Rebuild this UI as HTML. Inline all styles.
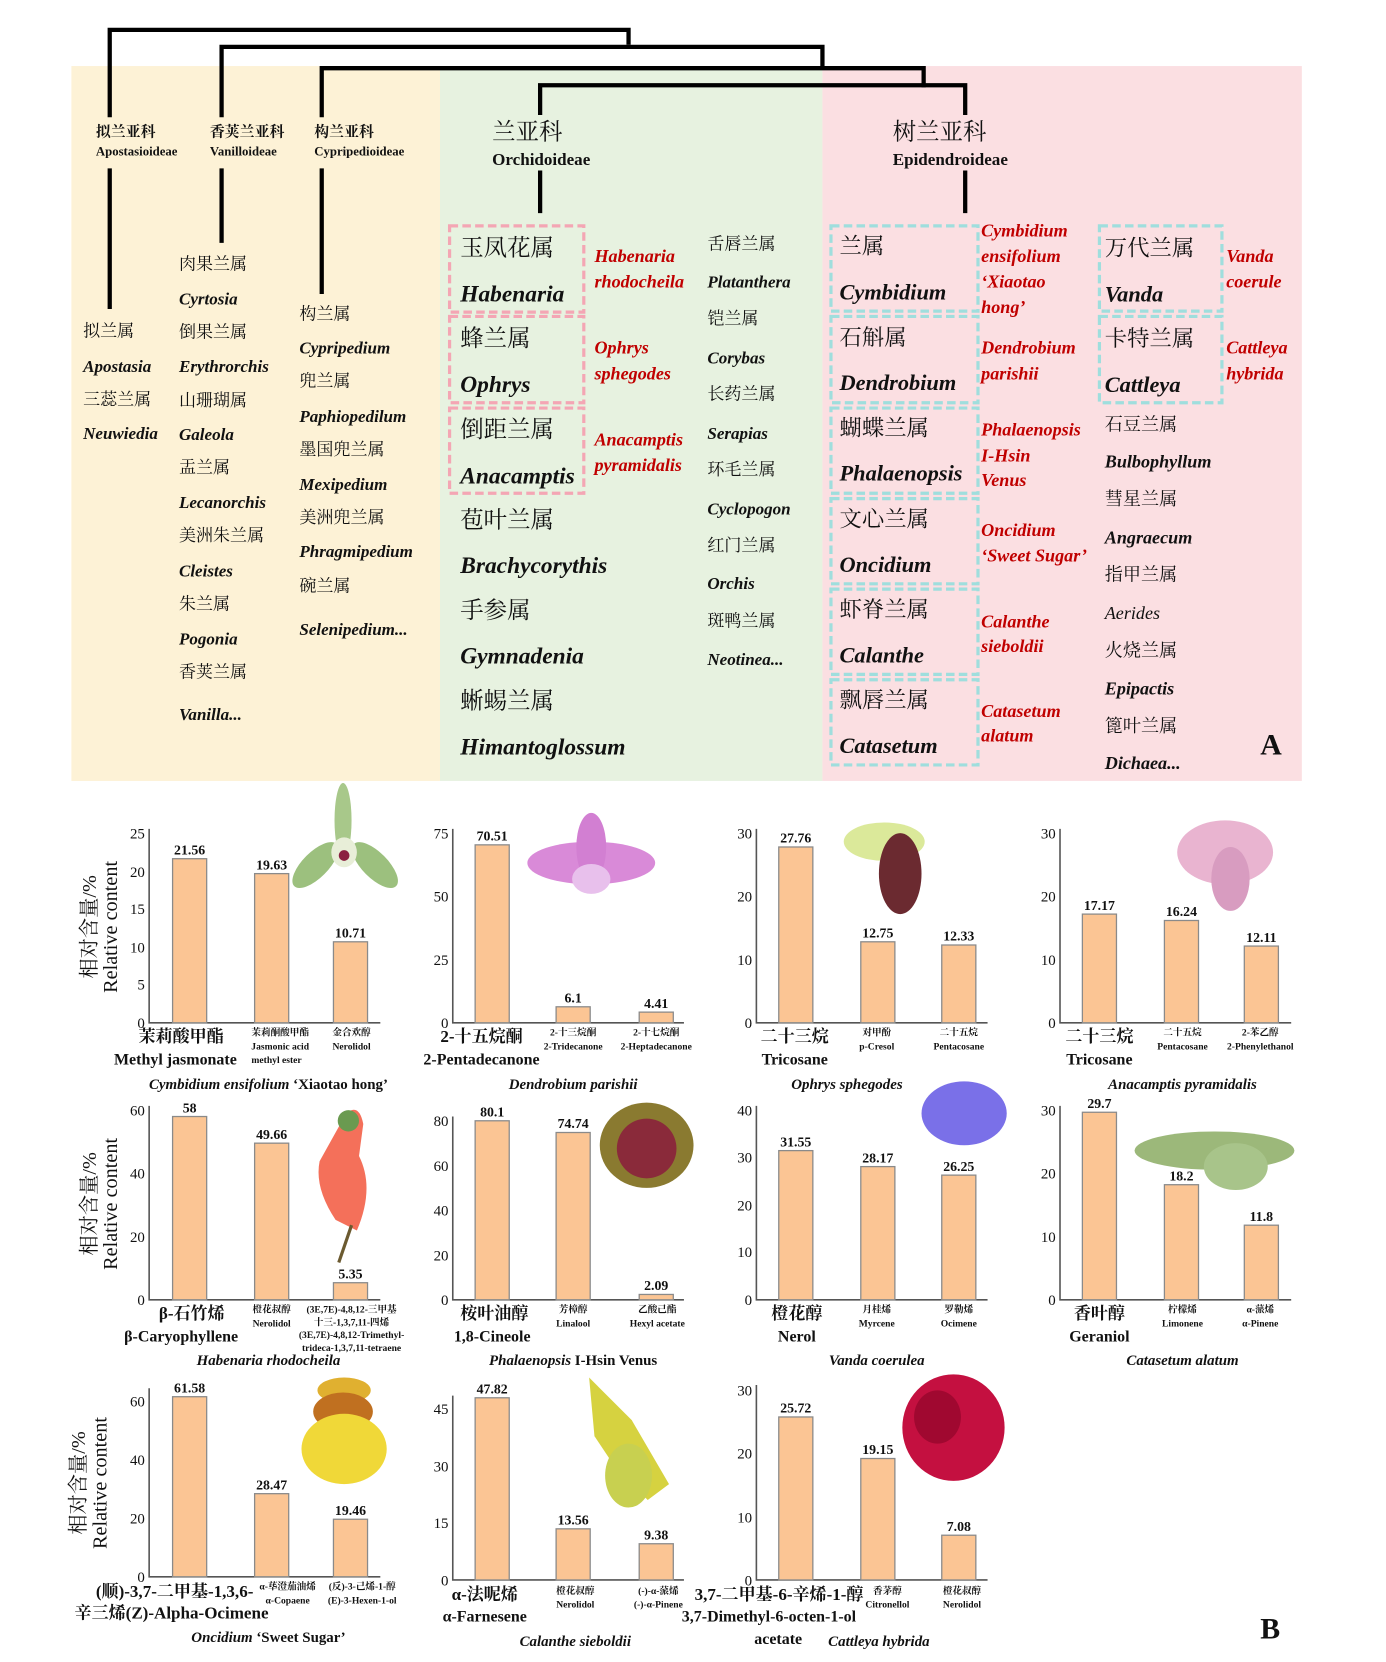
<!DOCTYPE html>
<html><head><meta charset="utf-8"><style>
html,body{margin:0;padding:0;background:#fff;width:1386px;height:1662px;overflow:hidden}
svg{display:block}
text{font-family:"Liberation Serif","Noto Serif CJK SC",serif;fill:#111}
.c{font-family:"Liberation Serif","Noto Serif CJK SC",serif}
.l{font-weight:bold;font-style:italic}
.r{fill:#c00000;font-weight:bold;font-style:italic;font-size:17px}
.y{font-size:16px}
.g{font-size:22px}
.p{font-size:21px}
.tk{font-size:14px;text-anchor:end}
.v{font-size:13px;font-weight:bold;text-anchor:middle}
.bar{fill:#fbc594;stroke:#8a8a8a;stroke-width:1.2}
.ax{stroke:#555;stroke-width:1.5;fill:none}
.bl{font-size:16px;font-weight:bold;text-anchor:middle}
.sm{font-size:9px;font-weight:bold;text-anchor:middle}
.cap{font-size:14px;font-weight:bold;font-style:italic;text-anchor:middle}
.ylab{font-size:19px;text-anchor:middle}
</style></head><body>
<svg width="1386" height="1662" viewBox="0 0 1301 1560" preserveAspectRatio="none" xmlns="http://www.w3.org/2000/svg">
<!-- Panel A backgrounds -->
<rect x="67" y="62" width="346" height="671" fill="#fdf2d6"/>
<rect x="413" y="62" width="359" height="671" fill="#e7f2e0"/>
<rect x="772" y="62" width="450" height="671" fill="#fbdfe2"/>
<!-- tree -->
<g stroke="#000" stroke-width="4" fill="none">
<polyline points="103,110 103,28 590,28 590,42"/>
<polyline points="208,110 208,44 772,44 772,62"/>
<polyline points="302,110 302,64 867,64 867,82"/>
<polyline points="507,108 507,80 906,80 906,108"/>
<line x1="103" y1="158" x2="103" y2="290"/>
<line x1="208" y1="158" x2="208" y2="228"/>
<line x1="302" y1="158" x2="302" y2="276"/>
<line x1="507" y1="160" x2="507" y2="200"/>
<line x1="906" y1="160" x2="906" y2="200"/>
</g>
<g font-weight="bold">
<text x="90" y="128" font-size="14">拟兰亚科</text>
<text x="90" y="146" font-size="12">Apostasioideae</text>
<text x="197" y="128" font-size="14">香荚兰亚科</text>
<text x="197" y="146" font-size="12">Vanilloideae</text>
<text x="295" y="128" font-size="14">构兰亚科</text>
<text x="295" y="146" font-size="12">Cypripedioideae</text>
<text x="462" y="131" font-size="22" font-weight="normal">兰亚科</text>
<text x="462" y="155" font-size="16">Orchidoideae</text>
<text x="838" y="131" font-size="22" font-weight="normal">树兰亚科</text>
<text x="838" y="155" font-size="16">Epidendroideae</text>
</g>
<!-- yellow columns -->
<g class="y">
<text x="78" y="316">拟兰属</text><text x="78" y="349" class="l">Apostasia</text>
<text x="78" y="380">三蕊兰属</text><text x="78" y="412" class="l">Neuwiedia</text>
<text x="168" y="253">肉果兰属</text><text x="168" y="286" class="l">Cyrtosia</text>
<text x="168" y="317">倒果兰属</text><text x="168" y="349" class="l">Erythrorchis</text>
<text x="168" y="381">山珊瑚属</text><text x="168" y="413" class="l">Galeola</text>
<text x="168" y="444">盂兰属</text><text x="168" y="477" class="l">Lecanorchis</text>
<text x="168" y="508">美洲朱兰属</text><text x="168" y="541" class="l">Cleistes</text>
<text x="168" y="572">朱兰属</text><text x="168" y="605" class="l">Pogonia</text>
<text x="168" y="636">香荚兰属</text><text x="168" y="676" class="l">Vanilla...</text>
<text x="281" y="300">构兰属</text><text x="281" y="332" class="l">Cypripedium</text>
<text x="281" y="363">兜兰属</text><text x="281" y="396" class="l">Paphiopedilum</text>
<text x="281" y="427">墨国兜兰属</text><text x="281" y="460" class="l">Mexipedium</text>
<text x="281" y="491">美洲兜兰属</text><text x="281" y="523" class="l">Phragmipedium</text>
<text x="281" y="555">碗兰属</text><text x="281" y="596" class="l">Selenipedium...</text>
</g>
<!-- green -->
<g fill="none" stroke="#f4a6b4" stroke-width="3" stroke-dasharray="8 4">
<rect x="422" y="212" width="126" height="81"/>
<rect x="422" y="297" width="126" height="81"/>
<rect x="422" y="383" width="126" height="80"/>
</g>
<g class="g">
<text x="432" y="240">玉凤花属</text><text x="432" y="283" class="l">Habenaria</text>
<text x="432" y="325">蜂兰属</text><text x="432" y="368" class="l">Ophrys</text>
<text x="432" y="410">倒距兰属</text><text x="432" y="454" class="l">Anacamptis</text>
<text x="432" y="495">苞叶兰属</text><text x="432" y="538" class="l">Brachycorythis</text>
<text x="432" y="580">手参属</text><text x="432" y="623" class="l">Gymnadenia</text>
<text x="432" y="665">蜥蜴兰属</text><text x="432" y="708" class="l">Himantoglossum</text>
</g>
<text x="558" y="246" class="r">Habenaria</text><text x="558" y="270" class="r">rhodocheila</text>
<text x="558" y="332" class="r">Ophrys</text><text x="558" y="356" class="r">sphegodes</text>
<text x="558" y="418" class="r">Anacamptis</text><text x="558" y="442" class="r">pyramidalis</text>
<g class="y" font-size="17">
<text x="664" y="234">舌唇兰属</text><text x="664" y="270" class="l">Platanthera</text>
<text x="664" y="304">铠兰属</text><text x="664" y="341" class="l">Corybas</text>
<text x="664" y="375">长药兰属</text><text x="664" y="412" class="l">Serapias</text>
<text x="664" y="446">环毛兰属</text><text x="664" y="483" class="l">Cyclopogon</text>
<text x="664" y="517">红门兰属</text><text x="664" y="553" class="l">Orchis</text>
<text x="664" y="588">斑鸭兰属</text><text x="664" y="624" class="l">Neotinea...</text>
</g>
<!-- pink -->
<g fill="none" stroke="#9fdedd" stroke-width="3" stroke-dasharray="8 4">
<rect x="780" y="212" width="138" height="80"/>
<rect x="780" y="297" width="138" height="81"/>
<rect x="780" y="383" width="138" height="80"/>
<rect x="780" y="468" width="138" height="80"/>
<rect x="780" y="553" width="138" height="80"/>
<rect x="780" y="638" width="138" height="80"/>
<rect x="1032" y="212" width="115" height="80"/>
<rect x="1032" y="297" width="115" height="81"/>
</g>
<g class="p">
<text x="788" y="238">兰属</text><text x="788" y="281" class="l">Cymbidium</text>
<text x="788" y="324">石斛属</text><text x="788" y="366" class="l">Dendrobium</text>
<text x="788" y="409">蝴蝶兰属</text><text x="788" y="451" class="l">Phalaenopsis</text>
<text x="788" y="494">文心兰属</text><text x="788" y="537" class="l">Oncidium</text>
<text x="788" y="579">虾脊兰属</text><text x="788" y="622" class="l">Calanthe</text>
<text x="788" y="664">飘唇兰属</text><text x="788" y="707" class="l">Catasetum</text>
<text x="1037" y="240">万代兰属</text><text x="1037" y="283" class="l">Vanda</text>
<text x="1037" y="325">卡特兰属</text><text x="1037" y="368" class="l">Cattleya</text>
</g>
<text x="921" y="222" class="r">Cymbidium</text><text x="921" y="246" class="r">ensifolium</text>
<text x="921" y="270" class="r">‘Xiaotao</text><text x="921" y="294" class="r">hong’</text>
<text x="921" y="332" class="r">Dendrobium</text><text x="921" y="356" class="r">parishii</text>
<text x="921" y="409" class="r">Phalaenopsis</text><text x="921" y="433" class="r">I-Hsin</text><text x="921" y="456" class="r">Venus</text>
<text x="921" y="503" class="r">Oncidium</text><text x="921" y="527" class="r">‘Sweet Sugar’</text>
<text x="921" y="589" class="r">Calanthe</text><text x="921" y="612" class="r">sieboldii</text>
<text x="921" y="673" class="r">Catasetum</text><text x="921" y="696" class="r">alatum</text>
<text x="1151" y="246" class="r">Vanda</text><text x="1151" y="270" class="r">coerule</text>
<text x="1151" y="332" class="r">Cattleya</text><text x="1151" y="356" class="r">hybrida</text>
<g font-size="17">
<text x="1037" y="404">石豆兰属</text><text x="1037" y="439" class="l">Bulbophyllum</text>
<text x="1037" y="474">彗星兰属</text><text x="1037" y="510" class="l">Angraecum</text>
<text x="1037" y="545">指甲兰属</text><text x="1037" y="581" font-style="italic" fill="#555">Aerides</text>
<text x="1037" y="616">火烧兰属</text><text x="1037" y="652" class="l">Epipactis</text>
<text x="1037" y="687">篦叶兰属</text><text x="1037" y="722" class="l">Dichaea...</text>
</g>
<text x="1183" y="708" font-size="28" font-weight="bold">A</text>

<!-- Flowers (approximate) -->
<g>
<ellipse cx="322" cy="770" rx="8" ry="35" fill="#a8c88a"/>
<ellipse cx="296" cy="812" rx="12" ry="28" fill="#9cc07e" transform="rotate(45 296 812)"/>
<ellipse cx="352" cy="812" rx="12" ry="28" fill="#9cc07e" transform="rotate(-45 352 812)"/>
<ellipse cx="323" cy="800" rx="12" ry="14" fill="#e8eed8"/><circle cx="323" cy="803" r="5" fill="#8a2040"/>
<ellipse cx="555" cy="810" rx="60" ry="20" fill="#d98ad8"/>
<ellipse cx="555" cy="795" rx="14" ry="32" fill="#d27fd2"/>
<ellipse cx="555" cy="825" rx="18" ry="14" fill="#e8c0ec"/>
<ellipse cx="830" cy="790" rx="38" ry="18" fill="#dbe99a"/>
<ellipse cx="845" cy="820" rx="20" ry="38" fill="#6b2a30"/>
<ellipse cx="1150" cy="800" rx="45" ry="30" fill="#e9b4d0"/>
<ellipse cx="1155" cy="825" rx="18" ry="30" fill="#d89cc0"/>
<path d="M325 1045 q12 -10 16 10 l-4 30 q15 30 -2 70 l-20 -10 q-20 -30 -15 -55 z" fill="#f4705a"/>
<circle cx="327" cy="1052" r="10" fill="#6a9a50"/>
<line x1="330" y1="1150" x2="318" y2="1185" stroke="#6b5a30" stroke-width="3"/>
<ellipse cx="607" cy="1075" rx="44" ry="40" fill="#8a7a30"/>
<ellipse cx="607" cy="1078" rx="28" ry="28" fill="#8a2a3a"/>
<ellipse cx="905" cy="1045" rx="40" ry="30" fill="#7a70e8"/>
<ellipse cx="1140" cy="1080" rx="75" ry="18" fill="#9cb87a"/>
<ellipse cx="1160" cy="1095" rx="30" ry="22" fill="#a8c48a"/>
<ellipse cx="323" cy="1305" rx="25" ry="12" fill="#e0b030"/>
<ellipse cx="322" cy="1325" rx="28" ry="18" fill="#c07020"/>
<ellipse cx="323" cy="1360" rx="40" ry="33" fill="#f0d838"/>
<path d="M553 1293 l40 40 l35 60 l-20 15 l-30 -30 l-20 -30 z" fill="#d6d240"/>
<ellipse cx="590" cy="1385" rx="22" ry="30" fill="#c8d050"/>
<ellipse cx="895" cy="1340" rx="48" ry="50" fill="#c41040"/>
<ellipse cx="880" cy="1330" rx="22" ry="25" fill="#a00830"/>
</g>

<!-- Charts row1 -->
<g>
<!-- c1 -->
<path class="ax" d="M140 778 V960 H357"/>
<text class="tk" x="136" y="787">25</text><text class="tk" x="136" y="823">20</text><text class="tk" x="136" y="858">15</text><text class="tk" x="136" y="894">10</text><text class="tk" x="136" y="929">5</text><text class="tk" x="136" y="965">0</text>
<rect class="bar" x="162" y="806" width="32" height="154"/><rect class="bar" x="239" y="820" width="32" height="140"/><rect class="bar" x="313" y="884" width="32" height="76"/>
<text class="v" x="178" y="802">21.56</text><text class="v" x="255" y="816">19.63</text><text class="v" x="329" y="880">10.71</text>
<text class="bl" x="170" y="978">茉莉酸甲酯</text><text x="107" y="999" font-size="15" font-weight="bold">Methyl jasmonate</text><text x="236" y="998" font-size="9" font-weight="bold">methyl ester</text>
<text class="sm" x="263" y="972">茉莉酮酸甲酯</text><text class="sm" x="263" y="985">Jasmonic acid</text>
<text class="sm" x="330" y="972">金合欢醇</text><text class="sm" x="330" y="985">Nerolidol</text>
<text class="cap" x="252" y="1022">Cymbidium ensifolium <tspan font-style="normal">‘Xiaotao hong’</tspan></text>
<!-- c2 -->
<path class="ax" d="M425 778 V960 H642"/>
<text class="tk" x="421" y="787">75</text><text class="tk" x="421" y="846">50</text><text class="tk" x="421" y="906">25</text><text class="tk" x="421" y="965">0</text>
<rect class="bar" x="446" y="793" width="32" height="167"/><rect class="bar" x="522" y="945" width="32" height="15"/><rect class="bar" x="600" y="950" width="32" height="10"/>
<text class="v" x="462" y="789">70.51</text><text class="v" x="538" y="941">6.1</text><text class="v" x="616" y="946">4.41</text>
<text class="bl" x="452" y="978">2-十五烷酮</text><text x="452" y="999" font-size="15" font-weight="bold" text-anchor="middle">2-Pentadecanone</text>
<text class="sm" x="538" y="972">2-十三烷酮</text><text class="sm" x="538" y="985">2-Tridecanone</text>
<text class="sm" x="616" y="972">2-十七烷酮</text><text class="sm" x="616" y="985">2-Heptadecanone</text>
<text class="cap" x="538" y="1022">Dendrobium parishii</text>
<!-- c3 -->
<path class="ax" d="M710 778 V960 H927"/>
<text class="tk" x="706" y="787">30</text><text class="tk" x="706" y="846">20</text><text class="tk" x="706" y="906">10</text><text class="tk" x="706" y="965">0</text>
<rect class="bar" x="731" y="795" width="32" height="165"/><rect class="bar" x="808" y="884" width="32" height="76"/><rect class="bar" x="884" y="887" width="32" height="73"/>
<text class="v" x="747" y="791">27.76</text><text class="v" x="824" y="880">12.75</text><text class="v" x="900" y="883">12.33</text>
<text class="bl" x="746" y="978">二十三烷</text><text x="746" y="999" font-size="15" font-weight="bold" text-anchor="middle">Tricosane</text>
<text class="sm" x="823" y="972">对甲酚</text><text class="sm" x="823" y="985">p-Cresol</text>
<text class="sm" x="900" y="972">二十五烷</text><text class="sm" x="900" y="985">Pentacosane</text>
<text class="cap" x="795" y="1022">Ophrys sphegodes</text>
<!-- c4 -->
<path class="ax" d="M995 778 V960 H1212"/>
<text class="tk" x="991" y="787">30</text><text class="tk" x="991" y="846">20</text><text class="tk" x="991" y="906">10</text><text class="tk" x="991" y="965">0</text>
<rect class="bar" x="1016" y="858" width="32" height="102"/><rect class="bar" x="1093" y="864" width="32" height="96"/><rect class="bar" x="1168" y="888" width="32" height="72"/>
<text class="v" x="1032" y="854">17.17</text><text class="v" x="1109" y="860">16.24</text><text class="v" x="1184" y="884">12.11</text>
<text class="bl" x="1032" y="978">二十三烷</text><text x="1032" y="999" font-size="15" font-weight="bold" text-anchor="middle">Tricosane</text>
<text class="sm" x="1110" y="972">二十五烷</text><text class="sm" x="1110" y="985">Pentacosane</text>
<text class="sm" x="1183" y="972">2-苯乙醇</text><text class="sm" x="1183" y="985">2-Phenylethanol</text>
<text class="cap" x="1110" y="1022">Anacamptis pyramidalis</text>
</g>
<!-- Row2 -->
<g>
<path class="ax" d="M140 1038 V1220 H357"/>
<text class="tk" x="136" y="1047">60</text><text class="tk" x="136" y="1106">40</text><text class="tk" x="136" y="1166">20</text><text class="tk" x="136" y="1225">0</text>
<rect class="bar" x="162" y="1048" width="32" height="172"/><rect class="bar" x="239" y="1073" width="32" height="147"/><rect class="bar" x="313" y="1204" width="32" height="16"/>
<text class="v" x="178" y="1044">58</text><text class="v" x="255" y="1069">49.66</text><text class="v" x="329" y="1200">5.35</text>
<text class="bl" x="180" y="1238">β-石竹烯</text><text x="170" y="1259" font-size="15" font-weight="bold" text-anchor="middle">β-Caryophyllene</text>
<text class="sm" x="255" y="1232">橙花叔醇</text><text class="sm" x="255" y="1245">Nerolidol</text>
<text class="sm" x="330" y="1232">(3E,7E)-4,8,12-三甲基</text><text class="sm" x="330" y="1244">十三-1,3,7,11-四烯</text><text class="sm" x="330" y="1256">(3E,7E)-4,8,12-Trimethyl-</text><text class="sm" x="330" y="1268">trideca-1,3,7,11-tetraene</text>
<text class="cap" x="252" y="1281">Habenaria rhodocheila</text>

<path class="ax" d="M425 1048 V1220 H642"/>
<text class="tk" x="421" y="1057">80</text><text class="tk" x="421" y="1099">60</text><text class="tk" x="421" y="1141">40</text><text class="tk" x="421" y="1183">20</text><text class="tk" x="421" y="1225">0</text>
<rect class="bar" x="446" y="1052" width="32" height="168"/><rect class="bar" x="522" y="1063" width="32" height="157"/><rect class="bar" x="600" y="1215" width="32" height="5"/>
<text class="v" x="462" y="1048">80.1</text><text class="v" x="538" y="1059">74.74</text><text class="v" x="616" y="1211">2.09</text>
<text class="bl" x="464" y="1238">桉叶油醇</text><text x="462" y="1259" font-size="15" font-weight="bold" text-anchor="middle">1,8-Cineole</text>
<text class="sm" x="538" y="1232">芳樟醇</text><text class="sm" x="538" y="1245">Linalool</text>
<text class="sm" x="617" y="1232">乙酸己酯</text><text class="sm" x="617" y="1245">Hexyl acetate</text>
<text class="cap" x="538" y="1281">Phalaenopsis <tspan font-style="normal">I-Hsin Venus</tspan></text>

<path class="ax" d="M710 1038 V1220 H927"/>
<text class="tk" x="706" y="1047">40</text><text class="tk" x="706" y="1091">30</text><text class="tk" x="706" y="1136">20</text><text class="tk" x="706" y="1180">10</text><text class="tk" x="706" y="1225">0</text>
<rect class="bar" x="731" y="1080" width="32" height="140"/><rect class="bar" x="808" y="1095" width="32" height="125"/><rect class="bar" x="884" y="1103" width="32" height="117"/>
<text class="v" x="747" y="1076">31.55</text><text class="v" x="824" y="1091">28.17</text><text class="v" x="900" y="1099">26.25</text>
<text class="bl" x="748" y="1238">橙花醇</text><text x="748" y="1259" font-size="15" font-weight="bold" text-anchor="middle">Nerol</text>
<text class="sm" x="823" y="1232">月桂烯</text><text class="sm" x="823" y="1245">Myrcene</text>
<text class="sm" x="900" y="1232">罗勒烯</text><text class="sm" x="900" y="1245">Ocimene</text>
<text class="cap" x="823" y="1281">Vanda coerulea</text>

<path class="ax" d="M995 1038 V1220 H1212"/>
<text class="tk" x="991" y="1047">30</text><text class="tk" x="991" y="1106">20</text><text class="tk" x="991" y="1166">10</text><text class="tk" x="991" y="1225">0</text>
<rect class="bar" x="1016" y="1044" width="32" height="176"/><rect class="bar" x="1093" y="1112" width="32" height="108"/><rect class="bar" x="1168" y="1150" width="32" height="70"/>
<text class="v" x="1032" y="1040">29.7</text><text class="v" x="1109" y="1108">18.2</text><text class="v" x="1184" y="1146">11.8</text>
<text class="bl" x="1032" y="1238">香叶醇</text><text x="1032" y="1259" font-size="15" font-weight="bold" text-anchor="middle">Geraniol</text>
<text class="sm" x="1110" y="1232">柠檬烯</text><text class="sm" x="1110" y="1245">Limonene</text>
<text class="sm" x="1183" y="1232">α-蒎烯</text><text class="sm" x="1183" y="1245">α-Pinene</text>
<text class="cap" x="1110" y="1281">Catasetum alatum</text>
</g>
<!-- Row3 -->
<g>
<path class="ax" d="M140 1303 V1480 H357"/>
<text class="tk" x="136" y="1320">60</text><text class="tk" x="136" y="1375">40</text><text class="tk" x="136" y="1430">20</text><text class="tk" x="136" y="1485">0</text>
<rect class="bar" x="162" y="1311" width="32" height="169"/><rect class="bar" x="239" y="1402" width="32" height="78"/><rect class="bar" x="313" y="1426" width="32" height="54"/>
<text class="v" x="178" y="1307">61.58</text><text class="v" x="255" y="1398">28.47</text><text class="v" x="329" y="1422">19.46</text>
<text x="90" y="1499" font-size="16" font-weight="bold">(顺)-3,7-二甲基-1,3,6-</text><text x="70" y="1519" font-size="16" font-weight="bold">辛三烯(Z)-Alpha-Ocimene</text>
<text class="sm" x="270" y="1492">α-荜澄茄油烯</text><text class="sm" x="270" y="1505">α-Copaene</text>
<text class="sm" x="340" y="1492">(反)-3-己烯-1-醇</text><text class="sm" x="340" y="1505">(E)-3-Hexen-1-ol</text>
<text class="cap" x="252" y="1541">Oncidium <tspan font-style="normal">‘Sweet Sugar’</tspan></text>

<path class="ax" d="M425 1310 V1483 H642"/>
<text class="tk" x="421" y="1327">45</text><text class="tk" x="421" y="1381">30</text><text class="tk" x="421" y="1434">15</text><text class="tk" x="421" y="1488">0</text>
<rect class="bar" x="446" y="1312" width="32" height="171"/><rect class="bar" x="522" y="1435" width="32" height="48"/><rect class="bar" x="600" y="1449" width="32" height="34"/>
<text class="v" x="462" y="1308">47.82</text><text class="v" x="538" y="1431">13.56</text><text class="v" x="616" y="1445">9.38</text>
<text class="bl" x="455" y="1502">α-法呢烯</text><text x="455" y="1522" font-size="15" font-weight="bold" text-anchor="middle">α-Farnesene</text>
<text class="sm" x="540" y="1496">橙花叔醇</text><text class="sm" x="540" y="1509">Nerolidol</text>
<text class="sm" x="618" y="1496">(-)-α-蒎烯</text><text class="sm" x="618" y="1509">(-)-α-Pinene</text>
<text class="cap" x="540" y="1545">Calanthe sieboldii</text>

<path class="ax" d="M710 1300 V1483 H927"/>
<text class="tk" x="706" y="1310">30</text><text class="tk" x="706" y="1369">20</text><text class="tk" x="706" y="1429">10</text><text class="tk" x="706" y="1488">0</text>
<rect class="bar" x="731" y="1330" width="32" height="153"/><rect class="bar" x="808" y="1369" width="32" height="114"/><rect class="bar" x="884" y="1441" width="32" height="42"/>
<text class="v" x="747" y="1326">25.72</text><text class="v" x="824" y="1365">19.15</text><text class="v" x="900" y="1437">7.08</text>
<text x="652" y="1502" font-size="16" font-weight="bold">3,7-二甲基-6-辛烯-1-醇</text>
<text x="640" y="1522" font-size="15" font-weight="bold">3,7-Dimethyl-6-octen-1-ol</text>
<text x="708" y="1543" font-size="15" font-weight="bold">acetate</text>
<text class="sm" x="833" y="1496">香茅醇</text><text class="sm" x="833" y="1509">Citronellol</text>
<text class="sm" x="903" y="1496">橙花叔醇</text><text class="sm" x="903" y="1509">Nerolidol</text>
<text class="cap" x="825" y="1545">Cattleya hybrida</text>
</g>
<!-- Y labels -->
<g class="ylab">
<text transform="translate(90 870) rotate(-90)">相对含量/%</text>
<text transform="translate(110 870) rotate(-90)">Relative content</text>
<text transform="translate(90 1130) rotate(-90)">相对含量/%</text>
<text transform="translate(110 1130) rotate(-90)">Relative content</text>
<text transform="translate(80 1392) rotate(-90)">相对含量/%</text>
<text transform="translate(100 1392) rotate(-90)">Relative content</text>
</g>
<text x="1183" y="1538" font-size="28" font-weight="bold">B</text>
</svg>
</body></html>
